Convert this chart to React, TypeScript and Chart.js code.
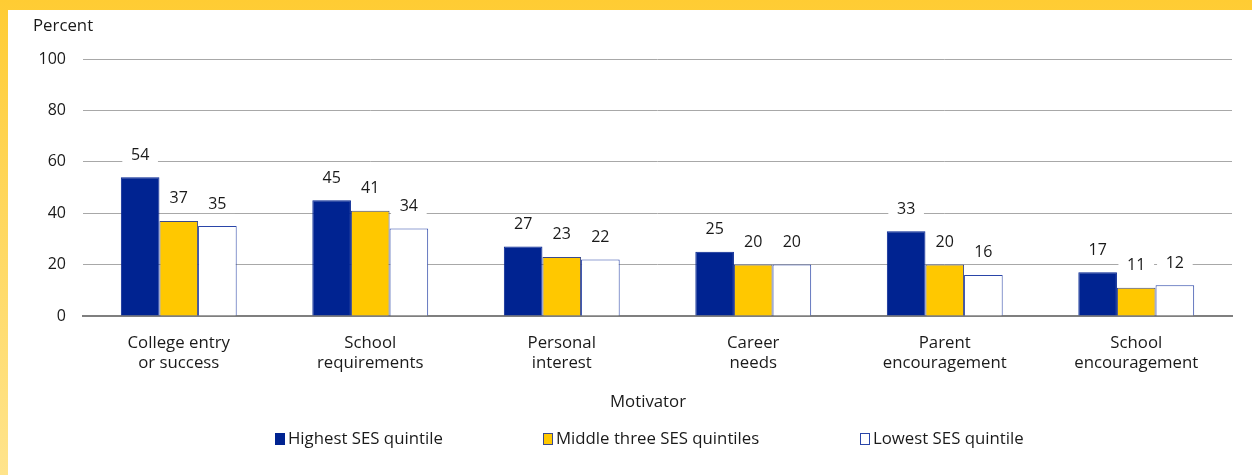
import React, { useEffect, useRef } from "react";
import { Chart, registerables } from "chart.js";

Chart.register(...registerables);

const categories: string[][] = [
  ["College entry", "or success"],
  ["School", "requirements"],
  ["Personal", "interest"],
  ["Career", "needs"],
  ["Parent", "encouragement"],
  ["School", "encouragement"],
];
const highestSES = [54, 45, 27, 25, 33, 17];
const middleSES = [37, 41, 23, 20, 20, 11];
const lowestSES = [35, 34, 22, 20, 16, 12];
const yTicks = [0, 20, 40, 60, 80, 100];

const seriesNames = ["Highest SES quintile", "Middle three SES quintiles", "Lowest SES quintile"];
const FONT = "'Open Sans', 'Noto Sans', sans-serif";
const BLUE = "#002391";
const YELLOW = "#FFC800";
const TEXT = "#1a1a1a";

const W = 1244;
const H = 465;

const extrasPlugin = {
  id: "extras",
  afterDatasetsDraw(chart: any) {
    const ctx = chart.ctx;
    ctx.save();
    ctx.font = `16px ${FONT}`;
    ctx.textAlign = "center";
    ctx.textBaseline = "middle";
    chart.data.datasets.forEach((ds: any, di: number) => {
      const meta = chart.getDatasetMeta(di);
      meta.data.forEach((el: any, i: number) => {
        const w = el.width;
        const cy = el.y - 22;
        ctx.fillStyle = "#ffffff";
        ctx.fillRect(el.x - w / 2 + 1.5, cy - 9, w - 3, 18);
        ctx.fillStyle = TEXT;
        ctx.fillText(String(ds.data[i]), el.x, cy);
      });
    });
    ctx.restore();
  },
  afterDraw(chart: any) {
    const ctx = chart.ctx;
    ctx.save();
    ctx.font = `16.8px ${FONT}`;
    ctx.fillStyle = TEXT;
    ctx.textBaseline = "middle";
    ctx.textAlign = "left";
    ctx.fillText("Percent", 25, 16);
    ctx.textAlign = "center";
    ctx.fillText("Motivator", 640, 392);
    // legend
    const boxX = [267, 535, 852];
    const ly = 429;
    chart.data.datasets.forEach((ds: any, di: number) => {
      const x = boxX[di];
      ctx.fillStyle = ds.backgroundColor;
      ctx.fillRect(x, ly - 6, 10, 12);
      ctx.strokeStyle = ds.borderColor;
      ctx.lineWidth = 1;
      ctx.strokeRect(x + 0.5, ly - 5.5, 9, 11);
      ctx.fillStyle = TEXT;
      ctx.textAlign = "left";
      ctx.fillText(ds.label, x + 13, ly);
    });
    ctx.restore();
  },
};

export default function App() {
  const ref = useRef<HTMLCanvasElement | null>(null);
  useEffect(() => {
    if (!ref.current) return;
    const chart = new Chart(ref.current, {
      type: "bar",
      data: {
        labels: categories,
        datasets: [
          { label: seriesNames[0], data: highestSES, backgroundColor: BLUE, borderColor: BLUE, borderWidth: 1 },
          { label: seriesNames[1], data: middleSES, backgroundColor: YELLOW, borderColor: "#3b4a8c", borderWidth: 1 },
          { label: seriesNames[2], data: lowestSES, backgroundColor: "#ffffff", borderColor: "#2a45a8", borderWidth: 1 },
        ],
      },
      options: {
        animation: false,
        responsive: false,
        devicePixelRatio: 1,
        layout: { padding: { left: 0, top: 49, right: 20, bottom: 0 } },
        datasets: { bar: { categoryPercentage: 0.605, barPercentage: 1 } },
        plugins: { legend: { display: false }, tooltip: { enabled: false } },
        scales: {
          x: {
            afterFit: (s: any) => { s.height = 159; },
            grid: { display: false, drawTicks: false },
            border: { display: true, color: "#7f7f7f", width: 2 },
            ticks: { color: TEXT, font: { family: FONT, size: 16.8, lineHeight: 1.2 }, padding: 17, maxRotation: 0, autoSkip: false },
          },
          y: {
            min: 0,
            max: 100,
            afterFit: (s: any) => { s.width = 75; },
            afterBuildTicks: (s: any) => { s.ticks = yTicks.map((v) => ({ value: v })); },
            grid: { color: "#a8a8a8", lineWidth: 1, drawTicks: false },
            border: { display: false },
            ticks: { color: TEXT, font: { family: FONT, size: 16 }, padding: 17 },
          },
        },
      },
      plugins: [extrasPlugin],
    });
    return () => chart.destroy();
  }, []);

  return (
    <div
      style={{
        position: "fixed",
        left: 0,
        top: 0,
        width: 1252,
        height: 475,
        background: "linear-gradient(to bottom, #FFCC33 0%, #FFD659 40%, #FFE48C 100%)",
      }}
    >
      <div style={{ position: "absolute", left: 8, top: 10, width: W, height: H, background: "#ffffff" }}>
        <canvas ref={ref} width={W} height={H} style={{ width: W, height: H, display: "block" }} />
      </div>
    </div>
  );
}
